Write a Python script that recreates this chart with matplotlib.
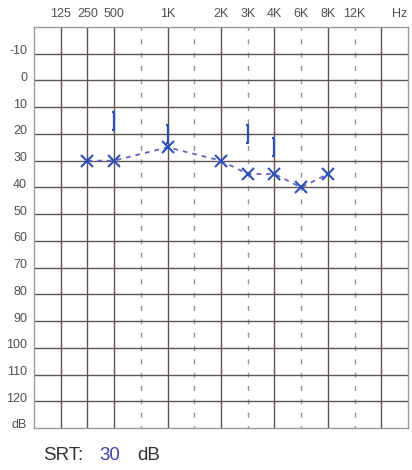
import matplotlib
matplotlib.use('Agg')
import matplotlib.pyplot as plt
from matplotlib.path import Path
from matplotlib.transforms import ScaledTranslation

plt.rcParams['font.family'] = ['Liberation Sans', 'DejaVu Sans']

# audiogram columns (Hz), left to right; last one has no label
grid_freqs = [125, 250, 500, 750, 1000, 1500, 2000, 3000, 4000, 6000, 8000, 12000, 16000]
grid_labels = ['125', '250', '500', '', '1K', '', '2K', '3K', '4K', '6K', '8K', '12K', '']
dashed_freqs = [750, 1500, 3000, 6000, 12000]

db_levels = list(range(-10, 130, 10))

# left ear air conduction (X)
air_freqs = [250, 500, 1000, 2000, 3000, 4000, 6000, 8000]
air_db = [30, 30, 25, 30, 35, 35, 40, 35]

# left ear bone conduction, masked (])
bone_freqs = [500, 1000, 3000, 4000]
bone_db = [15, 20, 20, 25]

srt_db = 30

BLUE = '#2f4fb8'
LINE = '#6062c0'
GRID = '#5f5551'
DASH = '#9a9292'


def col(f):
    return grid_freqs.index(f) + 1


fig = plt.figure(figsize=(4.12, 4.70), dpi=100)
ax = fig.add_axes([34 / 412, 1 - 428 / 470, 374 / 412, 401 / 470])
ax.set_xlim(0, len(grid_freqs) + 1)
ax.set_ylim(130, -20)

# grid
for f in grid_freqs:
    if f in dashed_freqs:
        ax.axvline(col(f), color=DASH, lw=1.0, linestyle=(1.8, (3.6, 6.0)), zorder=1)
    else:
        ax.axvline(col(f), color=GRID, lw=1.0, zorder=1)
for d in db_levels:
    ax.axhline(d, color=GRID, lw=1.0, zorder=1)

for s in ax.spines.values():
    s.set_color('#9b9b9b')
    s.set_linewidth(1.0)

# ticks
ax.xaxis.tick_top()
labeled = [f for f, l in zip(grid_freqs, grid_labels) if l]
ax.set_xticks([col(f) for f in labeled] + [len(grid_freqs) + 0.7])
ax.set_xticklabels([l for l in grid_labels if l] + ['Hz'], fontsize=9, color='#505050')
ax.set_yticks(db_levels + [130])
ax.set_yticklabels([str(d) for d in db_levels] + ['dB'], fontsize=9, color='#505050')
ax.tick_params(length=0)
ax.tick_params(axis='x', pad=5)
ax.tick_params(axis='y', pad=5)
for lab in ax.get_yticklabels():
    lab.set_transform(lab.get_transform() + ScaledTranslation(0, 4 / 100, fig.dpi_scale_trans))

# air conduction
ax.plot([col(f) for f in air_freqs], air_db, color=LINE, lw=1.3, linestyle=(0, (2.6, 2.8)), zorder=3)
ax.plot([col(f) for f in air_freqs], air_db, linestyle='none', marker='x', markersize=9,
        markeredgewidth=1.5, color=BLUE, zorder=4)

# bone conduction bracket marker
bracket = Path([(-0.25, 1), (0, 1), (0, -1), (-0.25, -1)],
               [Path.MOVETO, Path.LINETO, Path.LINETO, Path.LINETO])
ax.plot([col(f) for f in bone_freqs], bone_db, linestyle='none', marker=bracket, markersize=13,
        markeredgewidth=1.6, markerfacecolor='none', color=BLUE, zorder=4)

# SRT
fig.text(43 / 412, 1 - 455 / 470, 'SRT:', fontsize=13.5, color='#333333', va='center')
fig.text(99 / 412, 1 - 455 / 470, str(srt_db), fontsize=13.5, color='#3a44a6', va='center')
fig.text(137 / 412, 1 - 455 / 470, 'dB', fontsize=13.5, color='#333333', va='center')

fig.savefig('out.png', dpi=100)
